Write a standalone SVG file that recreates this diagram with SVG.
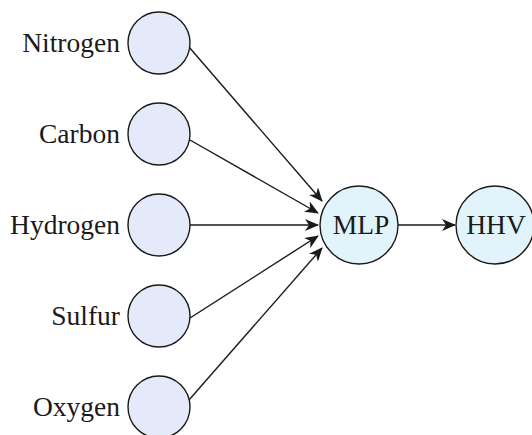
<svg xmlns="http://www.w3.org/2000/svg" width="532" height="435" viewBox="0 0 532 435">
<style>
.in{fill:#e4eaf9;stroke:#1a1a1a;stroke-width:1.4}
.hid{fill:#e1f3fb;stroke:#1a1a1a;stroke-width:1.4}
.lbl{font-family:"Liberation Serif","Times New Roman",serif;font-size:27.5px;fill:#1a1a1a}
.c{stroke:#1a1a1a;stroke-width:1.4;fill:none;marker-end:url(#ah)}
</style>
<defs>
<marker id="ah" markerUnits="userSpaceOnUse" markerWidth="14" markerHeight="12" viewBox="0 0 14 12" refX="13" refY="6" orient="auto">
<path d="M0,0 L14,6 L0,12 L4,6 z" fill="#1a1a1a"/>
</marker>
</defs>
<rect width="532" height="435" fill="#ffffff"/>
<g id="connectors">
<line class="c" x1="189" y1="47" x2="322" y2="201"/>
<line class="c" x1="190" y1="140" x2="318" y2="213"/>
<line class="c" x1="190" y1="225" x2="318" y2="225"/>
<line class="c" x1="190" y1="318" x2="318" y2="236"/>
<line class="c" x1="189" y1="400" x2="322" y2="248"/>
<line class="c" x1="398" y1="225" x2="455" y2="225"/>
</g>
<g id="nitrogen"><circle class="in" cx="159" cy="43" r="31"/><text class="lbl" x="120" y="52" text-anchor="end">Nitrogen</text></g>
<g id="carbon"><circle class="in" cx="159" cy="134" r="31"/><text class="lbl" x="120" y="143" text-anchor="end">Carbon</text></g>
<g id="hydrogen"><circle class="in" cx="159" cy="225" r="31"/><text class="lbl" x="120" y="234" text-anchor="end">Hydrogen</text></g>
<g id="sulfur"><circle class="in" cx="159" cy="316" r="31"/><text class="lbl" x="120" y="325" text-anchor="end">Sulfur</text></g>
<g id="oxygen"><circle class="in" cx="159" cy="407" r="31"/><text class="lbl" x="120" y="416" text-anchor="end">Oxygen</text></g>
<g id="mlp"><circle class="hid" cx="359" cy="225" r="39"/><text class="lbl" x="361" y="234" text-anchor="middle">MLP</text></g>
<g id="hhv"><circle class="hid" cx="495" cy="225" r="39"/><text class="lbl" x="496" y="234" text-anchor="middle">HHV</text></g>
</svg>
